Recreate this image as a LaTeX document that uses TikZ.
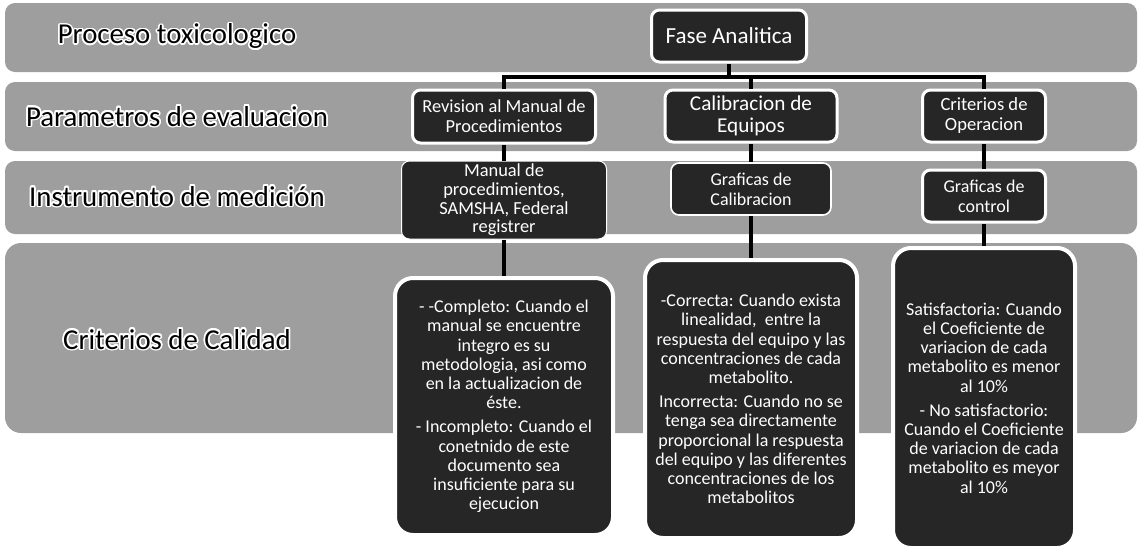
\documentclass[tikz,border=0pt]{standalone}
\usepackage{fontspec}
\setmainfont{Carlito}
\usepackage{contour}
\contourlength{0.8pt}
\usetikzlibrary{positioning}
\tikzstyle{band} = [fill=black!38, rounded corners=5pt]
\tikzstyle{rowlabel} = [font=\fontsize{14.4}{17}\selectfont, inner sep=0pt]
\tikzstyle{block} = [rectangle, draw=white, line width=1.5pt, fill=black!85, text=white, text centered, align=center, rounded corners=4pt, inner sep=0pt]
\tikzstyle{card} = [block, line width=2pt, rounded corners=9pt, font=\fontsize{9}{9.6}\selectfont]
\tikzstyle{line} = [draw, line width=2pt]

\begin{document}
\begin{tikzpicture}[x=0.5pt, y=-0.5pt]
        \useasboundingbox (0,0) rectangle (1139,552);

        % grey rows
        \path[band] (5,3) rectangle (1137,72);
        \path[band] (5,82) rectangle (1137,151);
        \path[band] (5,161) rectangle (1137,234);
        \path[band, rounded corners=8pt] (5,243) rectangle (1137,433);

        \node[rowlabel] (10) at (177,37) {\contour{white}{Proceso toxicologico}};
        \node[rowlabel] (11) at (177,117) {\contour{white}{Parametros de evaluacion}};
        \node[rowlabel] (12) at (177,197) {\contour{white}{Instrumento de medición}};
        \node[rowlabel] (13) at (177,340) {\contour{white}{Criterios de Calidad}};

        \node[block, minimum width=77.5pt, minimum height=26pt, font=\fontsize{11.5}{13}\selectfont] (00) at (729,36) {Fase Analitica};

        \node[block, minimum width=91.5pt, minimum height=26.5pt, font=\fontsize{9.2}{10}\selectfont] (01) at (504,116.5) {Revision al Manual de\\Procedimientos};

        \node[block, minimum width=86pt, minimum height=26pt, font=\fontsize{10.6}{10.8}\selectfont] (02) at (751,116) {Calibracion de\\Equipos};

        \node[block, minimum width=61.5pt, minimum height=26pt, font=\fontsize{9.3}{10}\selectfont] (03) at (984,116) {Criterios de\\Operacion};

        \coordinate (bus) at (729,77);
        \path[line] (00) -- (bus);
        \path[line] (bus) -| (01);
        \path[line] (bus) -| (02);
        \path[line] (bus) -| (03);

        \node[block, line width=0.5pt, minimum width=102.5pt, minimum height=39pt, font=\fontsize{9.2}{9.3}\selectfont] (04) at (504,200) {Manual de\\procedimientos,\\SAMSHA, Federal\\registrer};
        \path[line] (01) -- (04);

        \node[block, line width=0.8pt, minimum width=80pt, minimum height=26pt, font=\fontsize{9}{10}\selectfont] (05) at (751,189) {Graficas de\\Calibracion};
        \path[line] (02) -- (05);

        \node[block, minimum width=61.5pt, minimum height=26pt, font=\fontsize{9}{10}\selectfont] (06) at (984,196) {Graficas de\\control};
        \path[line] (03) -- (06);

        \node[card, minimum width=109pt, minimum height=128.5pt] (07) at (504,406.5) {- -Completo: Cuando el\\manual se encuentre\\integro es su\\metodologia, asi como\\en la actualizacion de\\éste.\\[2.5pt]- Incompleto: Cuando el\\conetnido de este\\documento sea\\insuficiente para su\\ejecucion};
        \path[line] (04) -- (07);

        \node[card, minimum width=106pt, minimum height=139pt] (08) at (751,399) {-Correcta: Cuando exista\\linealidad,~ entre la\\respuesta del equipo y las\\concentraciones de cada\\metabolito.\\[2.5pt]Incorrecta: Cuando no se\\tenga sea directamente\\proporcional la respuesta\\del equipo y las diferentes\\concentraciones de los\\metabolitos};
        \path[line] (05) -- (08);

        \node[card, minimum width=91pt, minimum height=150pt] (09) at (984,398) {Satisfactoria: Cuando\\el Coeficiente de\\variacion de cada\\metabolito es menor\\al 10\%\\[2.5pt]- No satisfactorio:\\Cuando el Coeficiente\\de variacion de cada\\metabolito es meyor\\al 10\%};
        \path[line] (06) -- (09);
    \end{tikzpicture}
\end{document}
